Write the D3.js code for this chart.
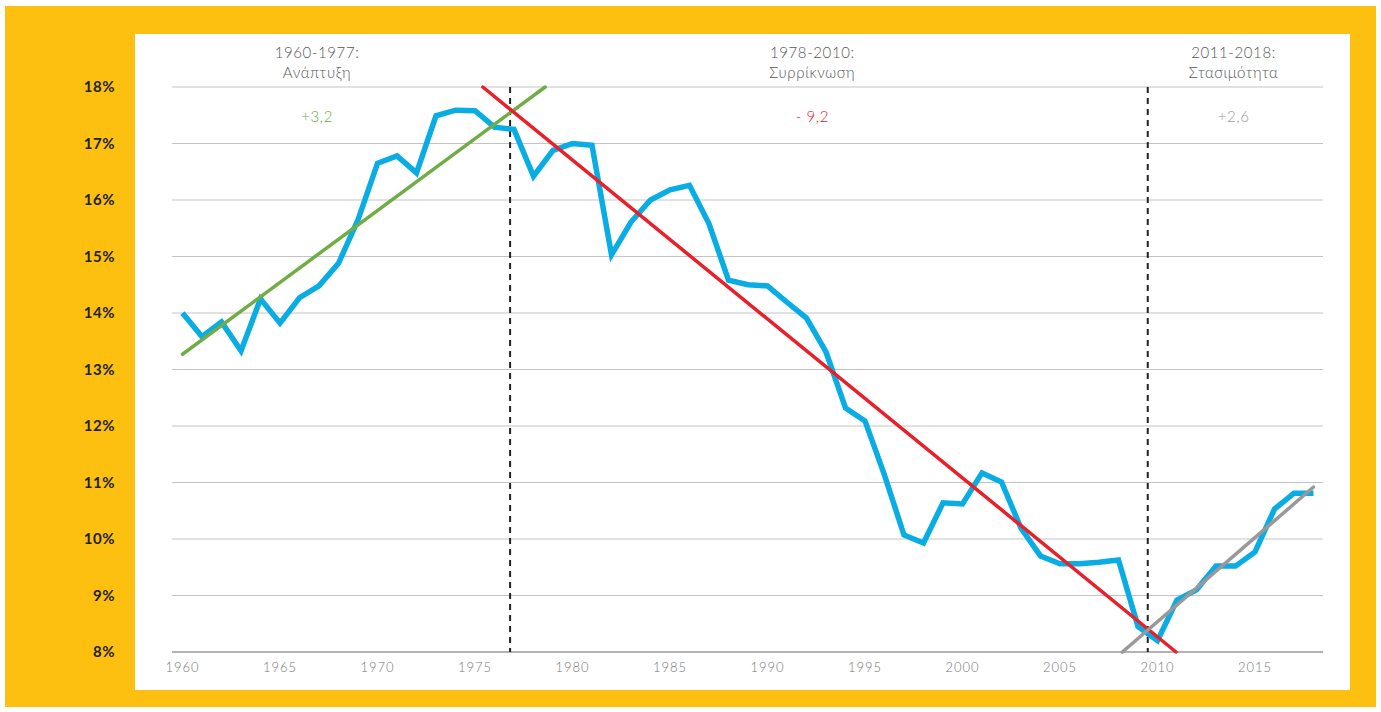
<!DOCTYPE html>
<meta charset="utf-8">
<style>
    body { margin: 0; background: #fff; }
    .grid line { stroke: #c4c4c4; stroke-width: 1; }
    .ylab { font: bold 15px Lato, sans-serif; fill: #222; letter-spacing: 0.5px; }
    .xlab { font: 300 13px Lato, sans-serif; fill: #777; letter-spacing: 1px; }
    .period { font: 300 15px Lato, sans-serif; fill: #555; letter-spacing: 0.6px; }
</style>
<body>
<script src="https://cdn.jsdelivr.net/npm/d3@7"></script>
<script>
    var years = d3.range(1960, 2019);
    var share = [
        14.0, 13.58, 13.84, 13.33, 14.25, 13.82, 14.27, 14.48, 14.88, 15.65,
        16.65, 16.78, 16.48, 17.49, 17.59, 17.58, 17.29, 17.25, 16.42, 16.88,
        17.0, 16.97, 15.03, 15.61, 16.0, 16.18, 16.26, 15.58, 14.58, 14.5,
        14.48, 14.19, 13.91, 13.31, 12.32, 12.09, 11.13, 10.07, 9.93, 10.64,
        10.62, 11.17, 11.01, 10.19, 9.70, 9.56, 9.56, 9.59, 9.63, 8.45,
        8.2, 8.92, 9.1, 9.52, 9.52, 9.77, 10.53, 10.81, 10.81
    ];
    var yTicks = [8, 9, 10, 11, 12, 13, 14, 15, 16, 17, 18];
    var xTicks = [1960, 1965, 1970, 1975, 1980, 1985, 1990, 1995, 2000, 2005, 2010, 2015];
    var breaks = [1976.8, 2009.5];

    // trend lines: [year, %] start and end
    var trendGrowth = [[1960, 13.27], [1978.6, 18.0]];
    var trendShrink = [[1975.4, 18.0], [2010.95, 8.0]];
    var trendFlat = [[2008.2, 8.0], [2018, 10.92]];

    var periodTitles = ["1960-1977:", "1978-2010:", "2011-2018:"];
    var periodNames = ["Ανάπτυξη", "Συρρίκνωση", "Στασιμότητα"];
    var periodChange = ["+3,2", "- 9,2", "+2,6"];
    var periodCenter = [1966.9, 1992.3, 2013.9];

    var width = 1381, height = 712;

    var svg = d3.select("body").append("svg")
        .attr("width", width)
        .attr("height", height);

    // yellow frame and white panel
    svg.append("rect").attr("x", 5).attr("y", 6).attr("width", 1371).attr("height", 701).attr("fill", "#fdc010");
    svg.append("rect").attr("x", 135).attr("y", 34).attr("width", 1215).attr("height", 656).attr("fill", "#fff");

    var x = d3.scaleLinear().domain([1960, 2018]).range([182.5, 1313.5]);
    var y = d3.scaleLinear().domain([8, 18]).range([652, 87]);

    svg.append("g").attr("class", "grid")
        .selectAll("line")
        .data(yTicks.slice(1))
        .enter().append("line")
        .attr("x1", 172).attr("x2", 1323)
        .attr("y1", function(d) { return y(d); })
        .attr("y2", function(d) { return y(d); });

    // x axis baseline
    svg.append("line")
        .attr("x1", 172).attr("x2", 1323)
        .attr("y1", y(8)).attr("y2", y(8))
        .attr("stroke", "#b3b3b3").attr("stroke-width", 2);

    svg.selectAll(".ylab")
        .data(yTicks)
        .enter().append("text")
        .attr("class", "ylab")
        .attr("x", 115)
        .attr("y", function(d) { return y(d) + 5; })
        .attr("text-anchor", "end")
        .text(function(d) { return d + "%"; });

    svg.selectAll(".xlab")
        .data(xTicks)
        .enter().append("text")
        .attr("class", "xlab")
        .attr("x", function(d) { return x(d); })
        .attr("y", 672)
        .attr("text-anchor", "middle")
        .text(function(d) { return d; });

    svg.selectAll(".brk")
        .data(breaks)
        .enter().append("line")
        .attr("class", "brk")
        .attr("x1", function(d) { return x(d); })
        .attr("x2", function(d) { return x(d); })
        .attr("y1", y(18)).attr("y2", y(8))
        .attr("stroke", "#222").attr("stroke-width", 2)
        .attr("stroke-dasharray", "6,5");

    var line = d3.line()
        .x(function(d) { return x(d[0]); })
        .y(function(d) { return y(d[1]); });

    svg.append("path")
        .datum(years.map(function(yr, i) { return [yr, share[i]]; }))
        .attr("d", line)
        .attr("fill", "none")
        .attr("stroke", "#0aade3")
        .attr("stroke-width", 5.5)
        .attr("stroke-linejoin", "miter");

    var trends = [
        { pts: trendGrowth, color: "#70ad47" },
        { pts: trendShrink, color: "#e8202a" },
        { pts: trendFlat, color: "#999999" }
    ];
    svg.selectAll(".trend")
        .data(trends)
        .enter().append("path")
        .attr("class", "trend")
        .attr("d", function(d) { return line(d.pts); })
        .attr("fill", "none")
        .attr("stroke", function(d) { return d.color; })
        .attr("stroke-width", 3.5)
        .attr("stroke-linecap", "round");

    var changeColors = ["#6aab3f", "#e8202a", "#9a9a9a"];
    periodTitles.forEach(function(t, i) {
        var cx = x(periodCenter[i]);
        svg.append("text").attr("class", "period")
            .attr("x", cx).attr("y", 58).attr("text-anchor", "middle").text(t);
        svg.append("text").attr("class", "period")
            .attr("x", cx).attr("y", 78).attr("text-anchor", "middle").text(periodNames[i]);
        svg.append("text").attr("class", "period")
            .attr("x", cx).attr("y", 122).attr("text-anchor", "middle")
            .style("fill", changeColors[i])
            .text(periodChange[i]);
    });
</script>
